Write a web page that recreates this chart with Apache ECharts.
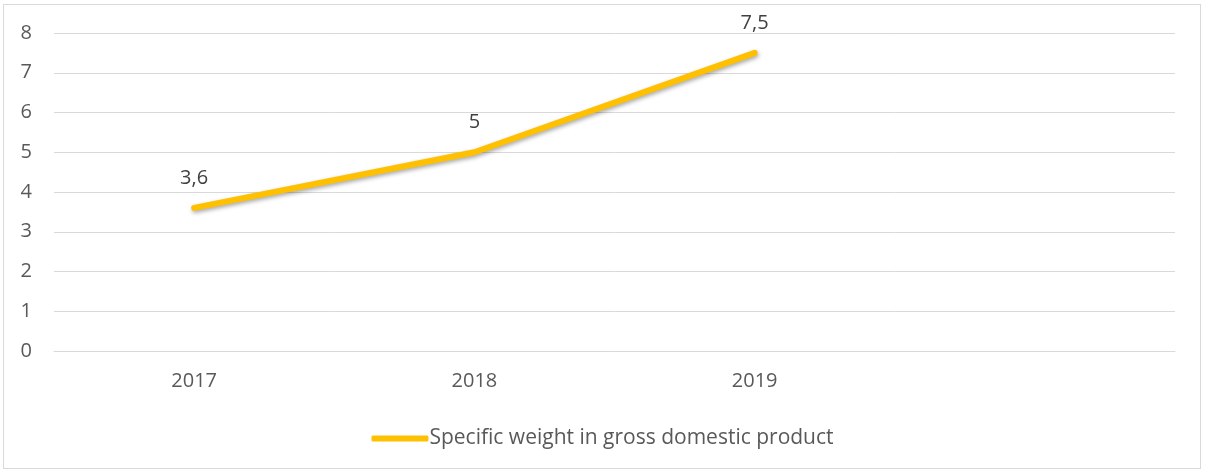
<!DOCTYPE html>
<html>
<head>
    <meta charset="utf-8" />
    <title>Specific weight</title>
    <style>
        html, body { margin: 0; padding: 0; background: #fff; }
        #frame {
            position: absolute;
            left: 3px; top: 4px;
            width: 1198px; height: 465px;
            border: 1px solid #d9d9d9;
            box-sizing: border-box;
        }
        #chart { position: absolute; left: 0; top: 0; width: 1205px; height: 473px; }
    </style>
</head>
<body>
    <div id="frame"></div>
    <div id="chart"></div>
    <script src="https://cdn.jsdelivr.net/npm/echarts@6/dist/echarts.min.js"></script>
<script>
    // data
    var years = ['2017', '2018', '2019', ''];
    var weightValues = [3.6, 5, 7.5, null];
    var seriesName = 'Specific weight in gross domestic product';

    var font = '"Open Sans", sans-serif';
    var myChart = echarts.init(document.getElementById('chart'));
    var option = {
        animation: false,
        grid: { left: 54, right: 30, top: 33, bottom: 122 },
        xAxis: {
            type: 'category',
            data: years,
            boundaryGap: true,
            axisLine: { lineStyle: { color: '#d9d9d9', width: 1 } },
            axisTick: { show: false },
            axisLabel: { color: '#595959', fontFamily: font, fontSize: 20, margin: 20 }
        },
        yAxis: {
            type: 'value',
            min: 0, max: 8, interval: 1,
            axisLine: { show: false },
            axisTick: { show: false },
            splitLine: { lineStyle: { color: '#d9d9d9', width: 1 } },
            axisLabel: { color: '#595959', fontFamily: font, fontSize: 20, margin: 22 }
        },
        legend: {
            top: 423,
            left: 'center',
            itemWidth: 57,
            itemHeight: 6,
            data: [{ name: seriesName, icon: 'roundRect' }],
            textStyle: { color: '#595959', fontFamily: font, fontSize: 21, padding: [0, 0, 0, -4] }
        },
        series: [{
            name: seriesName,
            type: 'line',
            data: weightValues,
            symbol: 'circle',
            symbolSize: 1,
            lineStyle: {
                color: '#ffc000', width: 6, cap: 'round',
                shadowColor: 'rgba(0,0,0,0.35)', shadowBlur: 4, shadowOffsetX: 1, shadowOffsetY: 2
            },
            itemStyle: { color: '#ffc000' },
            label: {
                show: true,
                position: 'top',
                distance: 19,
                color: '#404040',
                fontFamily: font,
                fontSize: 20,
                formatter: function (p) { return String(p.value).replace('.', ','); }
            }
        }]
    };
    myChart.setOption(option);
</script>
</body>
</html>
